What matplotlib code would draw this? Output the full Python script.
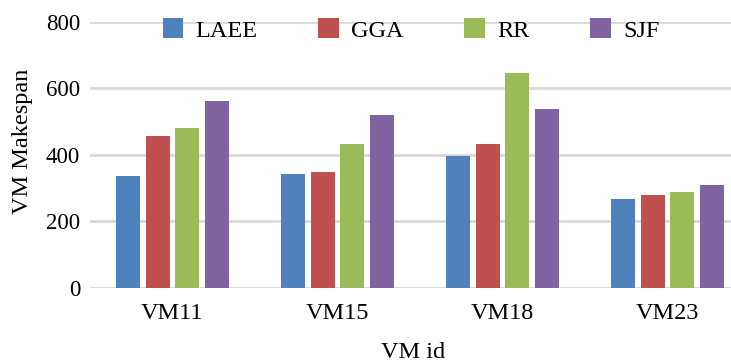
import numpy as np
from matplotlib import pyplot as plt

plt.rcParams['font.family'] = ['Liberation Serif', 'DejaVu Serif']

# makespan per VM for each scheduling algorithm
vms = ['VM11', 'VM15', 'VM18', 'VM23']
laee = [336, 343, 396, 266]
gga = [456, 348, 432, 278]
rr = [480, 434, 647, 287]
sjf = [562, 521, 539, 308]

series = [('LAEE', laee, '#4F81BD'),
          ('GGA', gga, '#C0504D'),
          ('RR', rr, '#9BBB59'),
          ('SJF', sjf, '#8064A2')]

fig = plt.figure(figsize=(7.31, 3.63), dpi=100)
ax = fig.add_axes([0.123, 0.207, 0.903, 0.733])

x = np.arange(len(vms))
pitch = 0.179
width = 0.145
for i, (name, vals, col) in enumerate(series):
    ax.bar(x + (i - 1.5) * pitch, vals, width, color=col, label=name, zorder=3)

ax.set_xlim(-0.5, len(vms) - 0.5)
ax.set_ylim(0, 800)
ax.set_yticks([0, 200, 400, 600, 800])
ax.set_xticks(x)
ax.set_xticklabels(vms)
ax.yaxis.grid(True, color='#d9d9d9', linewidth=2, zorder=0)
ax.set_axisbelow(True)
for s in ax.spines.values():
    s.set_visible(False)
ax.tick_params(axis='y', length=0, pad=7, labelsize=16.5)
ax.tick_params(axis='x', length=0, pad=11, labelsize=17.5)

fig.text(23 / 731, 1 - 141 / 363, 'VM Makespan', fontsize=17.5, rotation=90,
         ha='center', va='center')
fig.text(413 / 731, 1 - 352 / 363, 'VM id', fontsize=17.5, ha='center', va='center')

leg = fig.legend(loc='center', bbox_to_anchor=(411 / 731, 1 - 30 / 363), ncol=4,
                 fontsize=17.5, frameon=False, handlelength=0.85, handleheight=0.85,
                 handletextpad=0.5, columnspacing=2.5)

fig.savefig('out.png', dpi=100)
